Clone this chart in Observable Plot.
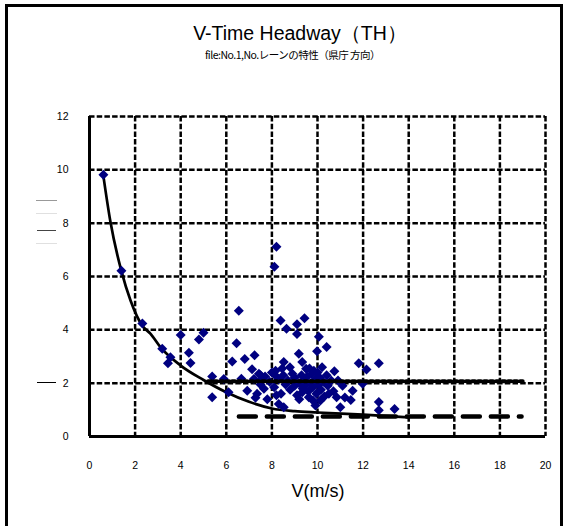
<!DOCTYPE html>
<html>
<head>
<meta charset="utf-8">
<script src="https://cdn.jsdelivr.net/npm/d3@7"></script>
<script src="https://cdn.jsdelivr.net/npm/@observablehq/plot@0.6"></script>
<style>
  html, body { margin: 0; padding: 0; background: #fff; }
  #wrap { position: relative; width: 569px; height: 526px; overflow: hidden; background: #fff; }
  #chart { position: absolute; left: 0; top: 0; }
  .bl { position: absolute; background: #000; }
  .txt { position: absolute; text-align: center; color: #000; white-space: nowrap; }
  .art { position: absolute; height: 1px; }
</style>
</head>
<body>
<div id="wrap">
  <div id="chart"></div>
  <div class="bl" style="left:5px;top:4px;width:3px;height:522px;"></div>
  <div class="bl" style="left:5px;top:4px;width:558px;height:3px;"></div>
  <div class="bl" style="left:560px;top:4px;width:3px;height:522px;"></div>
  <div class="txt" id="title" style="left:150px;width:300px;top:20px;font-family:'Liberation Sans',Arial,sans-serif;font-size:19.5px;">V-Time Headway（TH）</div>
  <div class="txt" id="subtitle" style="left:150px;width:285px;top:47px;font-family:'Noto Sans CJK JP',sans-serif;font-size:10.5px;letter-spacing:-0.5px;-webkit-font-smoothing:antialiased;">file:No.1,No.レーンの特性（県庁 方向）</div>
  <div class="txt" id="xlabel" style="left:218px;width:200px;top:481px;font-family:'Liberation Sans',Arial,sans-serif;font-size:18px;">V(m/s)</div>
  <div class="art" style="left:36px;top:200px;width:21px;background:#999;"></div>
  <div class="art" style="left:36px;top:213px;width:21px;background:#e0e0e0;"></div>
  <div class="art" style="left:37px;top:230px;width:19px;background:#444;"></div>
  <div class="art" style="left:36px;top:243px;width:21px;background:#e0e0e0;"></div>
  <div class="art" style="left:37px;top:382px;width:19px;background:#000;"></div>
</div>
<script>
// Tick values
const xTicks = [0, 2, 4, 6, 8, 10, 12, 14, 16, 18, 20];
const yTicks = [0, 2, 4, 6, 8, 10, 12];

// Observed points: speed V (m/s) and time headway TH (s)
const speedV = [
  0.61, 1.40, 2.32, 3.19, 3.55, 3.44, 4.00, 4.36, 4.43, 4.80, 5.00, 5.38, 5.89, 5.38, 6.10,
  6.26, 6.45, 6.55, 6.66, 6.81, 6.92, 7.13, 7.21, 7.24, 7.28, 7.43, 7.65, 8.11, 8.20, 8.38,
  8.64, 9.10, 9.43, 9.10, 10.06, 10.40, 9.98, 9.18, 8.52, 8.79, 9.50, 10.20, 10.74, 8.16, 7.57,
  9.84, 11.81, 12.15, 12.69, 11.98, 11.54, 10.84, 11.20, 11.46, 11.00, 12.69, 12.69, 13.38, 8.30, 8.52,
  9.33, 9.62, 9.91, 10.13,
  7.90, 8.10, 8.30, 8.40, 8.50, 8.60, 8.70, 8.80, 8.90, 9.00, 9.00, 9.10, 9.20, 9.30, 9.35,
  9.40, 9.50, 9.55, 9.60, 9.70, 9.75, 9.80, 9.90, 9.95, 10.00, 10.05, 10.10, 10.15, 10.25, 10.30,
  10.40, 10.45, 10.60, 10.70, 7.70, 7.50, 8.00, 8.20, 9.20, 9.80, 10.50, 8.45, 9.65, 7.35, 7.80,
  10.90, 11.10, 9.33, 7.50, 8.14
];
const headwayTH = [
  9.82, 6.22, 4.24, 3.29, 2.97, 2.75, 3.81, 3.14, 2.76, 3.64, 3.89, 2.25, 2.16, 1.47, 1.66,
  2.81, 3.50, 4.72, 2.17, 2.91, 1.72, 2.52, 2.16, 3.05, 1.45, 2.35, 1.79, 6.37, 7.12, 4.35,
  4.04, 4.21, 4.43, 3.84, 3.74, 3.36, 3.20, 3.10, 2.79, 2.60, 2.54, 2.60, 2.45, 2.47, 2.16,
  2.47, 2.75, 2.51, 2.75, 1.98, 1.72, 1.47, 1.46, 1.37, 1.10, 1.29, 0.98, 1.03, 1.22, 1.10,
  1.66, 1.47, 1.16, 1.35,
  2.05, 1.85, 2.15, 1.60, 2.30, 1.95, 2.10, 1.75, 2.35, 1.90, 2.20, 1.55, 2.00, 2.30, 1.80,
  2.10, 1.95, 2.25, 1.70, 2.00, 2.35, 1.85, 2.15, 1.60, 2.40, 1.95, 2.20, 1.75, 2.05, 1.50,
  2.30, 1.90, 2.10, 1.70, 2.25, 1.95, 2.40, 1.55, 1.40, 1.35, 1.60, 2.55, 2.55, 1.60, 1.40,
  2.10, 1.90, 2.79, 2.30, 2.30
];

// Fitted curve
const curveV  = [0.60, 0.92, 1.40, 1.80, 2.31, 2.68, 3.11, 4.00, 5.00, 6.00, 7.00, 8.00, 9.00, 10.00, 12.00, 14.00];
const curveTH = [9.82, 8.04, 6.20, 5.10, 4.16, 3.85, 3.35, 2.66, 2.12, 1.66, 1.30, 1.05, 0.95, 0.90, 0.82, 0.72];

// Reference lines
const dottedV = [5.2, 19.0];
const dottedTH = [2.07, 2.07];
const dashedV = [6.55, 18.95];
const dashedTH = [0.75, 0.75];

const pts = speedV.map((v, i) => ({v, th: headwayTH[i]}));
const curve = curveV.map((v, i) => ({v, th: curveTH[i]}));
const dotted = dottedV.map((v, i) => ({v, th: dottedTH[i]}));
const dashed = dashedV.map((v, i) => ({v, th: dashedTH[i]}));

const chart = Plot.plot({
  width: 569,
  height: 526,
  marginLeft: 89,
  marginRight: 24,
  marginTop: 116,
  marginBottom: 90,
  style: {fontFamily: "'Liberation Sans', Arial, sans-serif", fontSize: "10.5px", background: "transparent", color: "#000", overflow: "visible"},
  x: {domain: [0, 20]},
  y: {domain: [0, 12]},
  marks: [
    Plot.ruleX(xTicks.filter(d => d > 0), {x: d => d, stroke: "#000", strokeWidth: 2.5, strokeDasharray: "5.5,2.2"}),
    Plot.ruleY(yTicks.filter(d => d > 0), {y: d => d, stroke: "#000", strokeWidth: 2.5, strokeDasharray: "5.5,2.2"}),
    Plot.ruleX([0], {stroke: "#000", strokeWidth: 3}),
    Plot.ruleY([0], {stroke: "#000", strokeWidth: 3}),
    Plot.axisX({ticks: xTicks, tickSize: 0, tickPadding: 25, label: null, tickFormat: d => String(d)}),
    Plot.axisY({ticks: yTicks, tickSize: 0, tickPadding: 21, label: null, tickFormat: d => String(d)}),
    Plot.line(curve, {x: "v", y: "th", curve: "monotone-x", stroke: "#000", strokeWidth: 2.7}),
    Plot.dot(pts, {x: "v", y: "th", symbol: "diamond2", r: 4.5, fill: "#000080", stroke: "none"}),
    Plot.line(dotted, {x: "v", y: "th", stroke: "#000", strokeWidth: 4, strokeDasharray: "3,3"}),
    Plot.line(dashed, {x: "v", y: "th", stroke: "#000", strokeWidth: 4.5, strokeDasharray: "17,11"})
  ]
});
document.getElementById("chart").appendChild(chart);
</script>
</body>
</html>
